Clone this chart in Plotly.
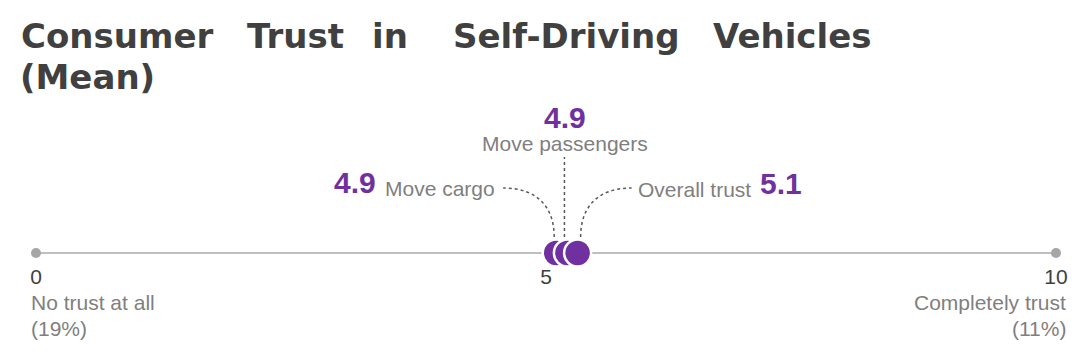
import plotly.graph_objects as go

# ---------------- data ----------------
categories = ["Move cargo", "Move passengers", "Overall trust"]
mean_scores = [4.9, 4.9, 5.1]            # values printed in the labels
plotted_at = [5.10, 5.21, 5.31]          # where the circles sit on the 0-10 scale in the reference
scale_ticks = [0, 5, 10]
scale_tick_text = ["0", "5", "10"]
end_labels = ["No trust at all", "Completely trust"]
end_shares = ["(19%)", "(11%)"]
title_words_line1 = ["Consumer", "Trust", "in", "Self-Driving", "Vehicles"]
title_line2 = "(Mean)"

# ---------------- style ----------------
PAGE_W, PAGE_H = 1086, 360
OFF = 8                                   # default page margin of the html body
W, H = PAGE_W - OFF, PAGE_H - OFF
PURPLE = "#7030A0"
DARK = "#404040"
GRAY = "#7F7F7F"
LINE_GRAY = "#BFBFBF"
DOT_GRAY = "#A6A6A6"
SCALE = 102.0                             # px per scale unit
X0_PX = 36 - OFF                          # figure pixel of scale value 0
X_LO, X_HI = -X0_PX / SCALE, (W - X0_PX) / SCALE
BASE_Y = 253                              # page pixel row of the scale line (y axis runs in page pixels)

def dx(px):
    return px / SCALE

def paper_x(px):
    return (px - OFF) / W

def paper_y(py):
    return 1 - (py - OFF) / H

fig = go.Figure()

# scale line with end dots
fig.add_trace(go.Scatter(
    x=[scale_ticks[0], scale_ticks[-1]], y=[BASE_Y, BASE_Y],
    mode="lines+markers",
    line=dict(color=LINE_GRAY, width=2),
    marker=dict(color=DOT_GRAY, size=10),
    hoverinfo="skip", showlegend=False))

# circles
for cat, pos in zip(categories, plotted_at):
    fig.add_trace(go.Scatter(
        x=[pos], y=[BASE_Y], mode="markers", name=cat,
        marker=dict(color=PURPLE, size=27, line=dict(color="white", width=2.5)),
        showlegend=False))

ann = []
shapes = []

c1, c2, c3 = plotted_at
lead = dict(color="#595959", width=1.5, dash="dot")
shapes.append(dict(type="path", xref="x", yref="y",
    path=f"M {c1+dx(-2)},{237} C {c1+dx(-2)},{208} {c1+dx(-18)},{188} {c1+dx(-53)},{188}",
    line=lead))
shapes.append(dict(type="line", xref="x", yref="y",
    x0=c2+dx(-3), x1=c2+dx(-3), y0=237, y1=157, line=lead))
shapes.append(dict(type="path", xref="x", yref="y",
    path=f"M {c3+dx(3)},{237} C {c3+dx(3)},{208} {c3+dx(19)},{188} {c3+dx(54)},{188}",
    line=lead))

num_font = dict(family="Liberation Sans, Arial", size=30, color=PURPLE)
lab_font = dict(family="Liberation Sans, Arial", size=21, color=GRAY)

ann.append(dict(x=c1+dx(-59), y=188, xref="x", yref="y", text=categories[0],
                xanchor="right", yanchor="middle", showarrow=False, font=lab_font))
ann.append(dict(x=c1+dx(-178), y=182, xref="x", yref="y", text=f"<b>{mean_scores[0]:.1f}</b>",
                xanchor="right", yanchor="middle", showarrow=False, font=num_font))
ann.append(dict(x=c2+dx(-2), y=143, xref="x", yref="y", text=categories[1],
                xanchor="center", yanchor="middle", showarrow=False, font=lab_font))
ann.append(dict(x=c2+dx(-2), y=117, xref="x", yref="y", text=f"<b>{mean_scores[1]:.1f}</b>",
                xanchor="center", yanchor="middle", showarrow=False, font=num_font))
ann.append(dict(x=c3+dx(58), y=189, xref="x", yref="y", text=categories[2],
                xanchor="left", yanchor="middle", showarrow=False, font=lab_font))
ann.append(dict(x=c3+dx(180), y=183, xref="x", yref="y", text=f"<b>{mean_scores[2]:.1f}</b>",
                xanchor="left", yanchor="middle", showarrow=False, font=num_font))

# end labels
end_font = dict(family="Liberation Sans, Arial", size=21, color=GRAY)
ann.append(dict(x=scale_ticks[0]+dx(-7), y=302, xref="x", yref="y", text=end_labels[0],
                xanchor="left", yanchor="middle", showarrow=False, font=end_font))
ann.append(dict(x=scale_ticks[0]+dx(-7), y=328, xref="x", yref="y", text=end_shares[0],
                xanchor="left", yanchor="middle", showarrow=False, font=end_font))
ann.append(dict(x=scale_ticks[-1]+dx(12), y=302, xref="x", yref="y", text=end_labels[1],
                xanchor="right", yanchor="middle", showarrow=False, font=end_font))
ann.append(dict(x=scale_ticks[-1]+dx(12), y=328, xref="x", yref="y", text=end_shares[1],
                xanchor="right", yanchor="middle", showarrow=False, font=end_font))

# title (justified first line)
title_font = dict(family="DejaVu Sans", size=34, color=DARK, weight="bold")
word_centers = [116.5, 295.5, 389.5, 566.5, 791.5]
for w, cx in zip(title_words_line1, word_centers):
    ann.append(dict(x=paper_x(cx), y=paper_y(35.5), xref="paper", yref="paper", text=w,
                    xanchor="center", yanchor="middle", showarrow=False, font=title_font))
ann.append(dict(x=paper_x(18), y=paper_y(76.5), xref="paper", yref="paper", text=title_line2,
                xanchor="left", yanchor="middle", showarrow=False, font=title_font))

fig.update_layout(
    width=W, height=H,
    margin=dict(l=0, r=0, t=0, b=0),
    paper_bgcolor="white", plot_bgcolor="white",
    annotations=ann, shapes=shapes,
    xaxis=dict(range=[X_LO, X_HI], showgrid=False, zeroline=False, showline=False,
               tickvals=scale_ticks, ticktext=scale_tick_text, ticks="",
               tickfont=dict(family="Liberation Sans, Arial", size=21, color=DARK),
               anchor="free", position=paper_y(BASE_Y), ticklabelstandoff=9),
    yaxis=dict(range=[PAGE_H, OFF], visible=False),
)

fig.write_html("out.html")
